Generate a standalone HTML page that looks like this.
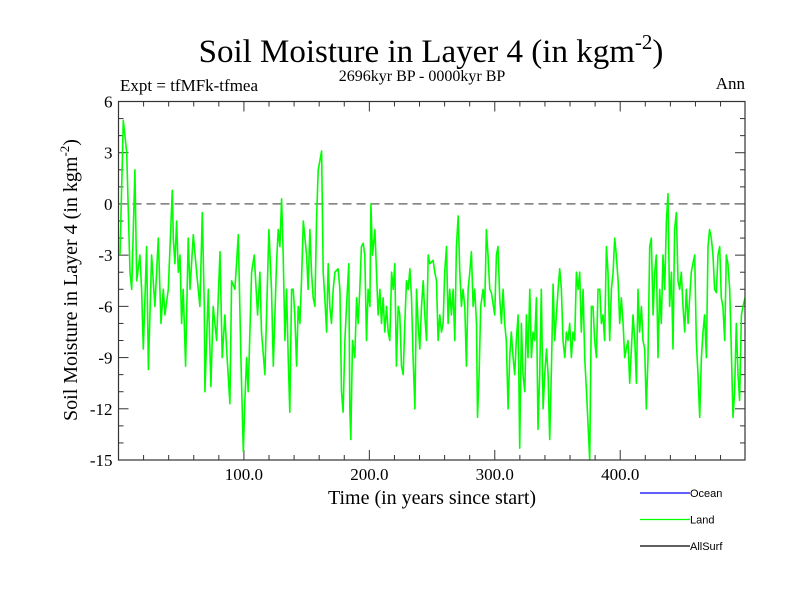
<!DOCTYPE html>
<html><head><meta charset="utf-8"><style>
html,body{margin:0;padding:0;background:#fff;}
svg{display:block;font-family:"Liberation Serif",serif;}
</style></head><body>
<svg id="chart" width="800" height="600" viewBox="0 0 800 600" xmlns="http://www.w3.org/2000/svg">
<rect x="0" y="0" width="800" height="600" fill="#fff"/>
<text x="431" y="62" font-size="33" text-anchor="middle">Soil Moisture in Layer 4 (in kgm<tspan font-size="21" dy="-13">-2</tspan><tspan dy="13">)</tspan></text>
<text x="422" y="81" font-size="16" text-anchor="middle">2696kyr BP - 0000kyr BP</text>
<text x="120" y="91" font-size="17">Expt = tfMFk-tfmea</text>
<text x="745" y="89" font-size="17" text-anchor="end">Ann</text>
<g id="axes"></g>
<g id="series"></g>
<rect x="118.5" y="101.5" width="626.5" height="358.5" fill="none" stroke="#333" stroke-width="1.2"/>
<text x="432" y="504" font-size="20" text-anchor="middle">Time (in years since start)</text>
<text transform="translate(77,280) rotate(-90)" font-size="20" text-anchor="middle">Soil Moisture in Layer 4 (in kgm<tspan font-size="13" dy="-8">-2</tspan><tspan dy="8">)</tspan></text>
<g font-family="Liberation Sans, sans-serif" font-size="11">
<line x1="640" y1="493" x2="690" y2="493" stroke="#0000ff" stroke-width="1.2"/>
<text x="690" y="497">Ocean</text>
<line x1="640" y1="519.5" x2="690" y2="519.5" stroke="#00ff00" stroke-width="1.2"/>
<text x="690" y="523.5">Land</text>
<line x1="640" y1="546" x2="690" y2="546" stroke="#000" stroke-width="1.2"/>
<text x="690" y="550">AllSurf</text>
</g>
</svg>
<script>
const years = [1.2,3.8,6.5,9.2,10.5,13.1,14.5,17.1,18.4,19.8,22.4,23.8,26.4,29,31.7,33.9,35.7,37,39.7,42.9,43.7,45,46.3,47.7,49,50.3,51.6,53.5,55.6,57,59.6,62.3,64.9,66.8,68.4,68.9,71.6,73.7,75.5,78.2,80.9,82.7,84.8,86.2,88.8,90.2,92.8,95.5,97.6,99.5,100.8,102.1,103.4,106.1,108.2,110.9,112.7,114,116.7,119.9,
122,123.4,126,127.3,128.7,130,131.3,132.7,134,135.3,136.6,138,139.3,140.6,142,143.3,144.6,145.9,147.3,150,151.2,152.6,153.9,155.2,156.6,157.9,159.2,160.5,161.9,163.2,164.5,165.9,167.2,168.5,169.8,171.2,172.5,175.1,176.5,177.8,179.1,180.5,181.8,183.6,184.4,185.2,186.6,188.4,189.8,191.1,192.4,193.7,195.1,196.4,197.7,199,200.4,201.2,202.5,204.4,205.7,207,208.4,209.7,211,212.3,213.7,215,216.3,217.7,219,220.3,221.6,223,224.3,225.6,227,228.3,229.6,231,232.3,233.6,234.9,236.3,237.6,238.9,240.2,241.6,242.9,
244.2,245.6,246.9,248.2,250.8,252.2,253.5,254.8,256.2,257.5,258.8,260.1,261.5,262.8,264.1,265.4,266.8,268.1,269.4,270.8,272.1,273.4,274.7,276.1,277.4,278.7,280.1,281.4,282.7,284,285.4,286.2,287.5,288.8,290.7,292,293.3,294.6,296,297.3,299.9,301.3,302.6,303.9,305.3,306.6,307.9,309.2,310.6,311.9,313.2,314.6,315.9,317.2,318.6,319.9,321.2,322.5,323.9,325.2,326.5,327.9,329.2,330.5,331.8,333.2,334.5,335.8,337.1,338.5,339.8,341.2,342.5,343.8,345.1,346.5,347.8,349.1,350.5,351.8,353.1,354.4,355.8,357.1,358.4,359.7,361.1,362.4,363.7,365.1,366.4,
367.7,369,370.4,371.7,373.1,374.4,375.7,377,378.3,379.7,381,382.3,383.7,385,386.3,387.6,389,390.3,391.6,393,394.3,395.6,396.9,398.3,399.6,400.9,402.3,403.6,404.9,406.2,407.6,408.9,410.2,411.6,412.9,414.2,415.5,416.9,418.2,419.5,420.8,422.2,423.5,424.8,426.2,427.5,428.8,430.1,431.5,432.8,434.1,435.5,436.8,438.1,439.4,440.8,442.1,443.4,444.8,446.1,447.4,448.7,450.1,451.4,452.7,454.1,455.4,456.7,458,459.4,460.7,462,463.4,464.7,466,467.3,468.7,470,471.3,472.6,474,475.3,476.6,478,479.3,480.6,481.9,483.3,484.6,485.9,487.3,488.6,489.9,491.2,492.6,493.9,495.2,496.6,497.9,499.5];
const landValues = [-3,4.9,3,-4,-5,2,-4.5,-3,-5,-8.5,-2.5,-9.7,-3,-6,-2,-7,-5,-6.5,-5,0.8,-2,-3.5,-1,-4,-3,-7,-5,-9.5,-2,-5,-1.8,-4,-6,-0.5,-6,-11,-5,-10.7,-6,-8,-2.8,-9,-6.5,-8.5,-11.7,-4.5,-5,-1.8,-9,-14.5,-11.5,-9,-11,-4,-3,-6.5,-4,-7.5,-10,-1.5,
-5,-9.5,-3.5,-1.5,-2.5,0.3,-3,-8,-5,-9,-12.2,-5,-5,-6.5,-9.5,-6,-7,-4.5,-1,-3,-5,-1.5,-4,-5.5,-6,-1,2,2.5,3.1,-4,-5.5,-7.5,-3.5,-6,-7,-5,-4,-3.8,-5,-11,-12.2,-8,-6,-3.5,-12,-13.8,-8,-9,-5.5,-7,-5,-2.5,-2.3,-3,-8,-5,-6,0,-3,-1.5,-4,-6.5,-5,-7,-5.5,-7.5,-6,-7.5,-8,-4,-5,-3.5,-9.5,-6,-6.5,-9.5,-10,-7,-4.5,-5,-3.8,-5.5,-9,-12,-5,-7,-8.5,-6,-4.5,
-6.5,-8,-3,-3.5,-3.3,-4,-4.5,-8,-6.5,-7.5,-7,-4,-2.5,-7,-5,-6.5,-5,-8,-2.5,-0.7,-4,-6,-5,-6,-9.5,-5,-4,-2.8,-6,-5,-7,-12.5,-10,-6,-5,-6,-1.5,-3,-5,-5.2,-6.5,-3,-2.5,-5.5,-7,-5,-7,-8,-12,-9,-7.5,-9,-10,-8,-6.5,-14.3,-7,-10,-11,-6.5,-9,-5,-9,-7.5,-8,-5.5,-13.2,-10,-5,-12,-10,-8.5,-10,-13.8,-10,-4.7,-8,-6.5,-5,-3.8,-5,-8,-9,-7.5,-8,-7,-9,-7.5,-8,-4,-5,
-4,-7.5,-5,-9,-11,-13,-15,-6,-6,-8,-9,-5,-5,-7,-6.5,-8,-2.5,-4,-8,-5,-4,-2,-3,-4.5,-7,-5.5,-7,-9,-8.5,-8,-10.5,-8.5,-6.5,-8,-10.5,-5,-7.5,-6,-8,-8.5,-12,-9,-2.5,-2,-6.5,-4,-3,-9,-5,-7,-3,-5,-1,0.6,-6,-4,-8.5,-1.5,-0.5,-4.5,-5,-4,-6,-7.5,-5,-7,-5.5,-4,-3.5,-3,-8,-10,-12.5,-9,-7.5,-6.5,-9,-2.5,-1.5,-2,-3,-5,-5.2,-3,-2.5,-5.5,-6,-8,-3,-3.5,-5,-8.5,-12.5,-11,-7,-10,-11.5,-6.5,-6,-5.5];
const yTickValues = [6,3,0,-3,-6,-9,-12,-15];
const yTickLabels = ["6","3","0","-3","-6","-9","-12","-15"];
const xTickValues = [100,200,300,400];
const xTickLabels = ["100.0","200.0","300.0","400.0"];

const NS = "http://www.w3.org/2000/svg";
const X0 = 118.5, X1 = 745, Y0 = 101.5, Y1 = 460;
const xMin = 0, xMax = 499.5, yMin = -15, yMax = 6;
function xs(v){ return X0 + (v - xMin) / (xMax - xMin) * (X1 - X0); }
function ys(v){ return Y1 - (v - yMin) / (yMax - yMin) * (Y1 - Y0); }
function mk(tag, attrs){ const e = document.createElementNS(NS, tag); for (const k in attrs) e.setAttribute(k, attrs[k]); return e; }

const axes = document.getElementById('axes');
for (let v = yMin; v <= yMax; v++) {
  const major = (v % 3 === 0);
  const len = major ? 10 : 5;
  const t1 = mk('line', {x1: X0, x2: X0 + len, y1: ys(v), y2: ys(v), stroke: '#333', 'stroke-width': 1});
  
  
  axes.appendChild(t1);
  const t2 = mk('line', {x1: X1, x2: X1 - len, y1: ys(v), y2: ys(v), stroke: '#333', 'stroke-width': 1});
  
  
  axes.appendChild(t2);
}
yTickValues.forEach((v, i) => {
  const t = mk('text', {x: X0 - 6, y: ys(v) + 6, 'font-size': 17, 'text-anchor': 'end'});
  t.textContent = yTickLabels[i];
  
  
  axes.appendChild(t);
});
for (let v = 20; v < xMax; v += 20) {
  const major = (v % 100 === 0);
  const len = major ? 10 : 5;
  const a = mk('line', {x1: xs(v), x2: xs(v), y1: Y1, y2: Y1 - len, stroke: '#333', 'stroke-width': 1});
  
  
  axes.appendChild(a);
  const b = mk('line', {x1: xs(v), x2: xs(v), y1: Y0, y2: Y0 + len, stroke: '#333', 'stroke-width': 1});
  
  
  axes.appendChild(b);
}
xTickValues.forEach((v, i) => {
  const t = mk('text', {x: xs(v), y: Y1 + 20, 'font-size': 17, 'text-anchor': 'middle'});
  t.textContent = xTickLabels[i];
  
  
  axes.appendChild(t);
});
const zero = mk('line', {x1: X0, x2: X1, y1: ys(0), y2: ys(0), stroke: '#777', 'stroke-width': 1.5, 'stroke-dasharray': '9,5'});


axes.appendChild(zero);

const series = document.getElementById('series');
const pts = years.map((y, i) => xs(y).toFixed(1) + ',' + ys(landValues[i]).toFixed(1)).join(' ');
const line = mk('polyline', {points: pts, fill: 'none', stroke: '#00ff00', 'stroke-width': 1.6, 'stroke-linejoin': 'round'});


series.appendChild(line);
</script>
</body></html>
